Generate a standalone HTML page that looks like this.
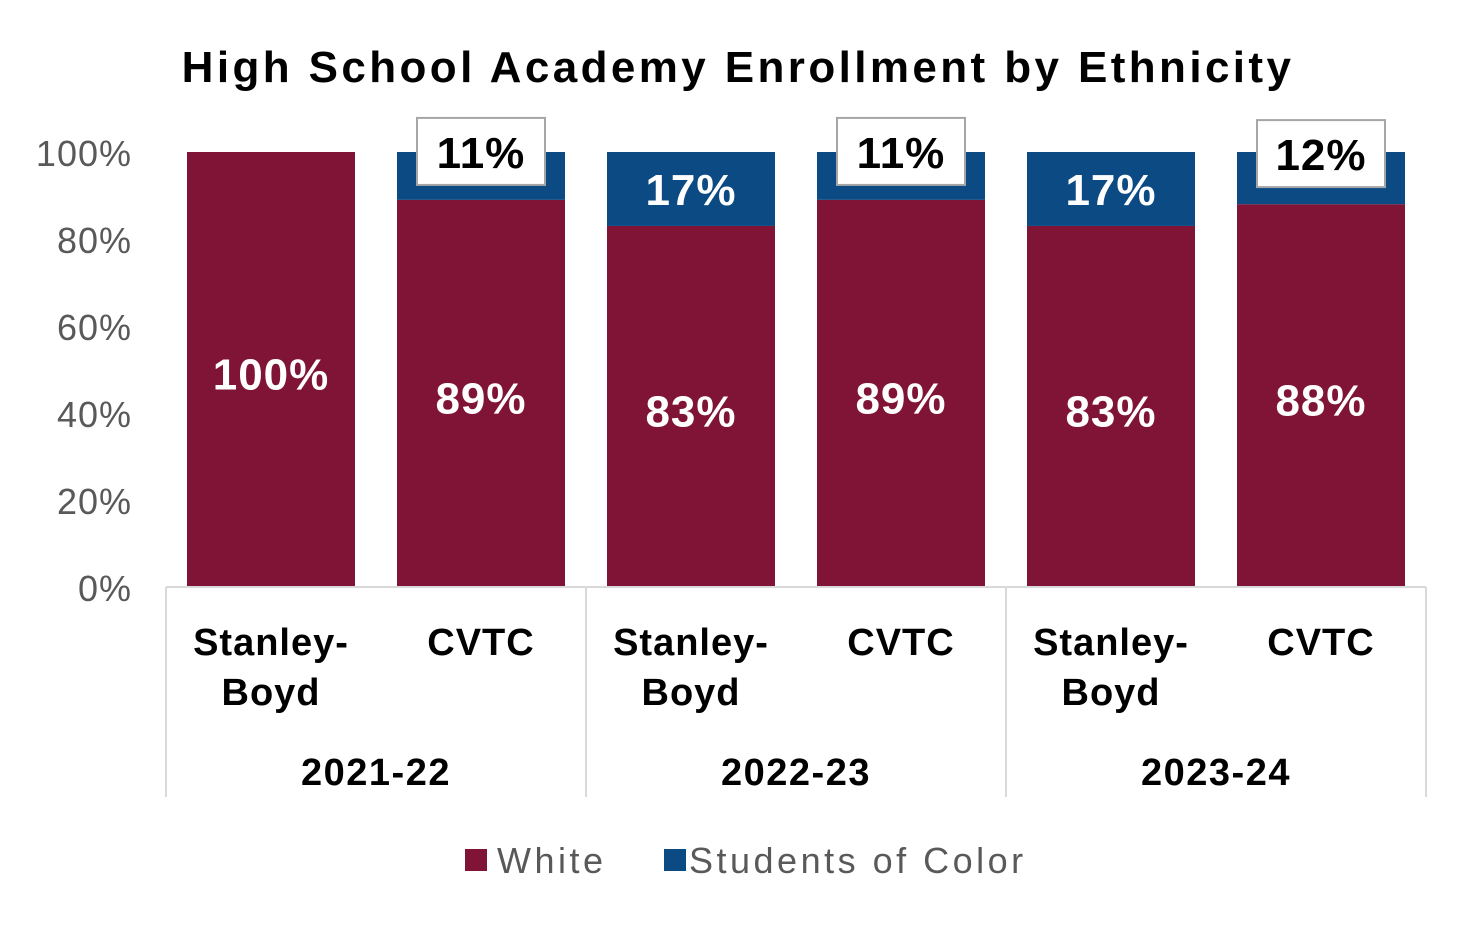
<!DOCTYPE html>
<html><head><meta charset="utf-8"><style>
body{margin:0;background:#fff;}
svg text{font-family:"Liberation Sans",Arial,sans-serif;}
</style></head><body>
<svg width="1476" height="926" viewBox="0 0 1476 926" xmlns="http://www.w3.org/2000/svg">
<text x="738" y="82" text-anchor="middle" font-size="44" font-weight="bold" fill="#000" letter-spacing="3.4">High School Academy Enrollment by Ethnicity</text>
<g id="axis"></g>
<g id="bars"></g>
<g id="xaxis"></g>
<g>
<rect x="465" y="849" width="22" height="22" fill="#7f1436"/>
<text x="497" y="873" font-size="36" fill="#595959" letter-spacing="3.5">White</text>
<rect x="664" y="849" width="22" height="22" fill="#0b4a82"/>
<text x="689" y="873" font-size="36" fill="#595959" letter-spacing="3.5">Students of Color</text>
</g>
</svg>
<script>
const categories=["Stanley-Boyd","CVTC","Stanley-Boyd","CVTC","Stanley-Boyd","CVTC"];
const years=["2021-22","2022-23","2023-24"];
const whiteVals=[100,89,83,89,83,88];
const socVals=[0,11,17,11,17,12];
const yTicks=[0,20,40,60,80,100];
const NS="http://www.w3.org/2000/svg";
const y0=587,y100=152,left=166,catW=210,barW=168;
const yScale=v=>y0-(y0-y100)*v/100;
const xCenter=i=>left+catW*i+catW/2;
function mk(tag,attrs,parent,txt){const e=document.createElementNS(NS,tag);for(const k in attrs)e.setAttribute(k,attrs[k]);if(txt!==undefined)e.textContent=txt;parent.appendChild(e);return e;}
const ax=document.getElementById('axis'),bars=document.getElementById('bars'),xa=document.getElementById('xaxis');
yTicks.forEach(t=>{const e=mk('text',{x:132,y:yScale(t)+14,'text-anchor':'end','font-size':36,fill:'#595959','letter-spacing':1},ax,t+'%');

});
categories.forEach((c,i)=>{
 const cx=xCenter(i),x=cx-barW/2;
 const w=whiteVals[i],s=socVals[i];
 const r=mk('rect',{x:x,y:yScale(w),width:barW,height:y0-yScale(w),fill:'#7f1436'},bars);
 
 
 const t=mk('text',{x:cx,y:(yScale(w)+y0)/2+20,'text-anchor':'middle','font-size':44,'font-weight':'bold',fill:'#fff','letter-spacing':1},bars,w+'%');
 
 
 if(s>0){
  const top=yScale(w+s);
  const b=mk('rect',{x:x,y:top,width:barW,height:yScale(w)-top,fill:'#0b4a82'},bars);
  
  
  const cy=(top+yScale(w))/2;
  if(s>=15){
   const l=mk('text',{x:cx,y:cy+16,'text-anchor':'middle','font-size':44,'font-weight':'bold',fill:'#fff','letter-spacing':1},bars,s+'%');
   
   
  }else{
   const bx=mk('rect',{x:cx-64,y:cy-58,width:128,height:67,fill:'#fff',stroke:'#a6a6a6','stroke-width':2},bars);
   
   
   const l=mk('text',{x:cx,y:cy-8,'text-anchor':'middle','font-size':44,'font-weight':'bold',fill:'#000','letter-spacing':1},bars,s+'%');
   
   
  }
 }
 const parts=c.includes('-')?[c.split('-')[0]+'-',c.split('-')[1]]:[c];
 parts.forEach((p,j)=>{const e=mk('text',{x:cx,y:655+j*50,'text-anchor':'middle','font-size':38,'font-weight':'bold',fill:'#000','letter-spacing':1},xa,p);
 
 });
});
for(let g=0;g<=years.length;g++){
 const x=left+g*2*catW;
 const ln=mk('line',{x1:x,x2:x,y1:y0,y2:797,stroke:'#d9d9d9','stroke-width':2},xa);
 
 
}
const base=mk('line',{x1:left,x2:left+catW*6,y1:y0,y2:y0,stroke:'#d9d9d9','stroke-width':2},xa);


years.forEach((yr,g)=>{const e=mk('text',{x:left+g*2*catW+catW,y:785,'text-anchor':'middle','font-size':38,'font-weight':'bold',fill:'#000','letter-spacing':1.5},xa,yr);

});
</script>
</body></html>
